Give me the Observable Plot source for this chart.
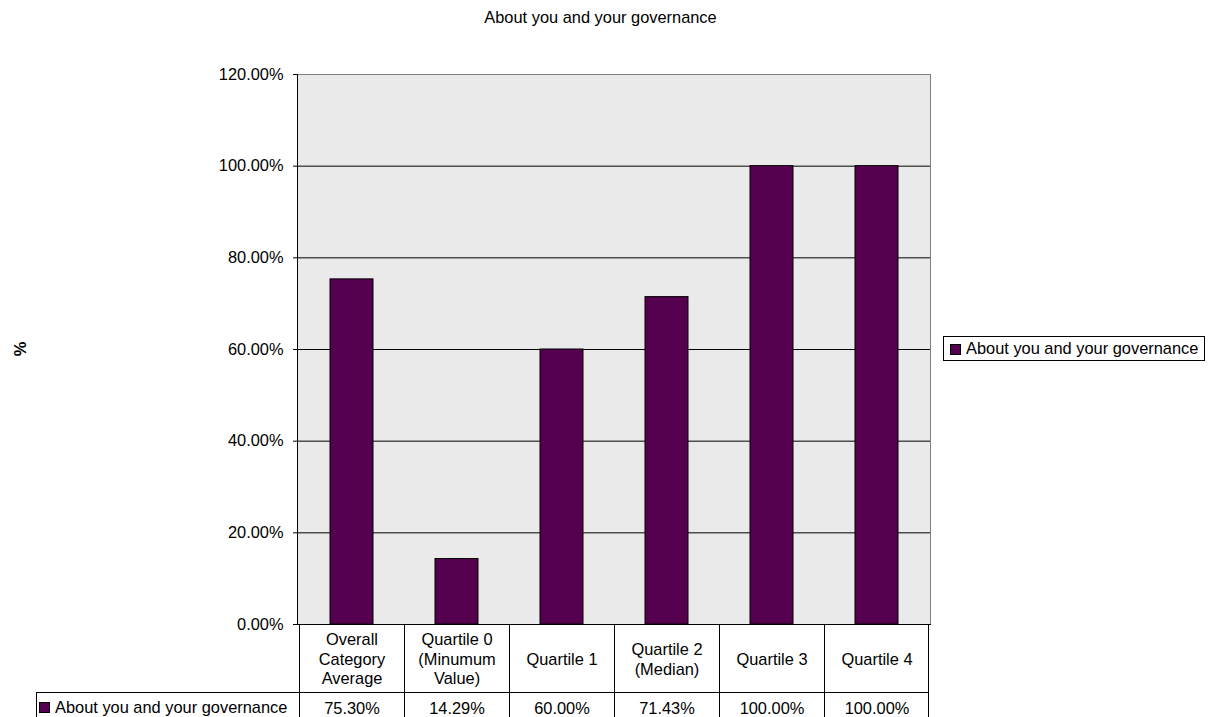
<!DOCTYPE html>
<html>
<head>
<meta charset="utf-8">
<script src="https://cdn.jsdelivr.net/npm/d3@7"></script>
<script src="https://cdn.jsdelivr.net/npm/@observablehq/plot@0.6"></script>
<style>
  html, body { margin: 0; padding: 0; background: #ffffff; }
  #chart svg { display: block; }
</style>
</head>
<body>
<div id="chart"></div>
<script>
const chartTitle = "About you and your governance";
const seriesName = "About you and your governance";
const yLabel = "%";
const categories = ["Overall\nCategory\nAverage", "Quartile 0\n(Minumum\nValue)", "Quartile 1", "Quartile 2\n(Median)", "Quartile 3", "Quartile 4"];
const values = [0.7530, 0.1429, 0.6000, 0.7143, 1.0000, 1.0000];
const valueLabels = ["75.30%", "14.29%", "60.00%", "71.43%", "100.00%", "100.00%"];
const yTicks = [0, 0.2, 0.4, 0.6, 0.8, 1.0, 1.2];
const gridTicks = [0.2, 0.4, 0.6, 0.8, 1.0];

const barColor = "#55004f";
const font = "'Liberation Sans', Arial, Helvetica, sans-serif";
const fs = 16.4;

const data = categories.map((c, i) => ({cat: c, value: values[i], label: valueLabels[i]}));

const W = 1212, H = 717;
const plot = Plot.plot({
  width: W,
  height: H,
  marginLeft: 297,
  marginRight: 282,
  marginTop: 74,
  marginBottom: 93,
  style: {fontFamily: font, fontSize: fs + "px", background: "#ffffff", color: "#000000", overflow: "visible"},
  x: {domain: categories, padding: 0, axis: null},
  y: {domain: [0, 1.2], label: null},
  marks: [
    Plot.frame({fill: "#eaeaea", stroke: "#808080"}),
    Plot.ruleY(gridTicks, {stroke: "#000000", strokeWidth: 1}),
    Plot.barY(data, {x: "cat", y: "value", fill: barColor, stroke: "#000000", strokeWidth: 1, insetLeft: 31, insetRight: 31}),
    Plot.frame({anchor: "left", stroke: "#000000"}),
    Plot.frame({anchor: "bottom", stroke: "#000000"}),
    Plot.axisY({ticks: yTicks, tickFormat: d3.format(".2%"), tickSize: 4, tickPadding: 10, label: null, fontSize: fs, stroke: "#000000"}),
    Plot.text(data, {x: "cat", text: "cat", frameAnchor: "bottom", dy: 34, lineAnchor: "middle", lineHeight: 1.2, fontSize: fs, fill: "#000000"}),
    Plot.text(data, {x: "cat", text: "label", frameAnchor: "bottom", dy: 84, lineAnchor: "middle", fontSize: fs, fill: "#000000"})
  ]
});

document.getElementById("chart").appendChild(plot);

const svg = d3.select(plot);
const xs = plot.scale("x");
const ys = plot.scale("y");
const y0 = ys.apply(0);
const rowDiv = y0 + 68;
const xRight = xs.apply(categories[categories.length - 1]) + xs.bandwidth;

const g = svg.append("g").attr("stroke", "#000000").attr("stroke-width", 1);
// vertical lines of the data table
categories.forEach(c => {
  const x = Math.round(xs.apply(c)) + 0.5;
  g.append("line").attr("x1", x).attr("x2", x).attr("y1", y0).attr("y2", H);
});
g.append("line").attr("x1", Math.round(xRight) - 0.5).attr("x2", Math.round(xRight) - 0.5).attr("y1", y0).attr("y2", H);
// horizontal divider and left border of value row
g.append("line").attr("x1", 36).attr("x2", Math.round(xRight)).attr("y1", rowDiv + 0.5).attr("y2", rowDiv + 0.5);
g.append("line").attr("x1", 36.5).attr("x2", 36.5).attr("y1", rowDiv).attr("y2", H);

// table legend key
svg.append("rect").attr("x", 39.5).attr("y", 702.5).attr("width", 10).attr("height", 10)
  .attr("fill", barColor).attr("stroke", "#000000");
svg.append("text").attr("x", 55).attr("y", 713).attr("text-anchor", "start").attr("font-family", font).attr("font-size", fs)
  .attr("fill", "#000000").text(seriesName);

// right legend
const lg = svg.append("g");
lg.append("rect").attr("x", 943.5).attr("y", 336.5).attr("width", 261).attr("height", 24)
  .attr("fill", "#ffffff").attr("stroke", "#000000");
lg.append("rect").attr("x", 950.5).attr("y", 344.5).attr("width", 10).attr("height", 10)
  .attr("fill", barColor).attr("stroke", "#000000");
lg.append("text").attr("x", 966).attr("y", 353.5).attr("text-anchor", "start").attr("font-family", font).attr("font-size", fs)
  .attr("fill", "#000000").text(seriesName);

// title
svg.append("text").attr("x", 600.5).attr("y", 23).attr("text-anchor", "middle")
  .attr("font-family", font).attr("font-size", fs).attr("fill", "#000000").text(chartTitle);

// y label
svg.append("text").attr("transform", "translate(26,349) rotate(-90)").attr("text-anchor", "middle")
  .attr("font-family", font).attr("font-size", fs).attr("font-weight", "bold").attr("fill", "#000000").text(yLabel);
</script>
</body>
</html>
